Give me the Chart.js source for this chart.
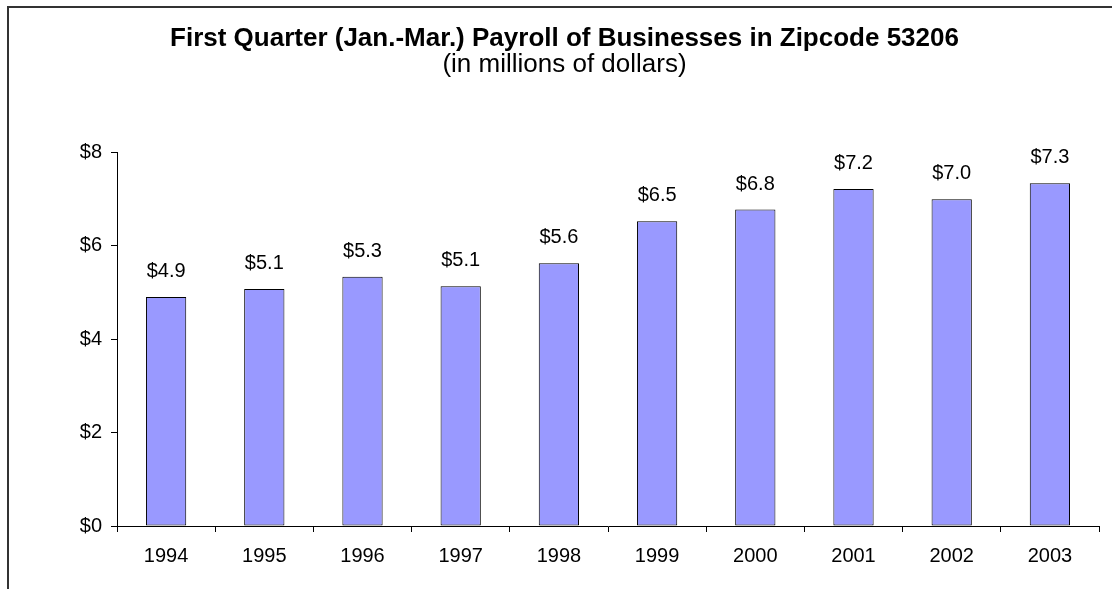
<!DOCTYPE html>
<html>
<head>
<meta charset="utf-8">
<script src="https://cdn.jsdelivr.net/npm/chart.js@4/dist/chart.umd.min.js"></script>
<style>
  html, body { margin: 0; padding: 0; background: #fff; }
  #wrap { position: relative; width: 1112px; height: 589px; }
  #frame { position: absolute; left: 7px; top: 6px; right: 0; bottom: 0;
           border-left: 2px solid #333; border-top: 2px solid #333; pointer-events: none; }
</style>
</head>
<body>
<div id="wrap">
  <canvas id="myChart" width="1112" height="589"></canvas>
  <div id="frame"></div>
</div>
<script>
// payroll of businesses in zipcode 53206, first quarter, millions of dollars
var years = ["1994","1995","1996","1997","1998","1999","2000","2001","2002","2003"];
var payroll = [4.90, 5.07, 5.33, 5.13, 5.62, 6.52, 6.77, 7.21, 6.99, 7.33];
var yTicks = [0, 2, 4, 6, 8];

var fontFam = "'Liberation Sans', Arial, sans-serif";
Chart.defaults.font.family = fontFam;
Chart.defaults.color = "#000";

// writes the value above every bar
var barLabels = {
  id: "barLabels",
  afterDatasetsDraw: function(chart) {
    var ctx = chart.ctx;
    var meta = chart.getDatasetMeta(0);
    ctx.save();
    ctx.font = "20px " + fontFam;
    ctx.fillStyle = "#000";
    ctx.textAlign = "center";
    ctx.textBaseline = "alphabetic";
    meta.data.forEach(function(bar, i) {
      ctx.fillText("$" + payroll[i].toFixed(1), bar.x, bar.y - 20);
    });
    ctx.restore();
  }
};

new Chart("myChart", {
  type: "bar",
  data: {
    labels: years,
    datasets: [{
      data: payroll,
      backgroundColor: "#9999FF",
      borderColor: "#000",
      borderWidth: 1,
      borderSkipped: false,
      barPercentage: 0.41,
      categoryPercentage: 1.0
    }]
  },
  options: {
    responsive: false,
    animation: false,
    layout: { padding: { left: 30, right: 13, top: 0, bottom: 0 } },
    plugins: {
      legend: { display: false },
      tooltip: { enabled: false },
      title: {
        display: true,
        text: "First Quarter (Jan.-Mar.) Payroll of Businesses in Zipcode 53206",
        font: { size: 26, weight: "bold", lineHeight: 1.0 },
        color: "#000",
        padding: { top: 26, bottom: 0 }
      },
      subtitle: {
        display: true,
        text: "(in millions of dollars)",
        font: { size: 26, lineHeight: 1.0 },
        color: "#000",
        padding: { top: 0, bottom: 74 }
      }
    },
    scales: {
      x: {
        grid: { display: true, drawOnChartArea: false, drawTicks: true, tickLength: 6, color: "#000", offset: true },
        border: { color: "#000", width: 1 },
        ticks: { font: { size: 20 }, color: "#000", padding: 12, maxRotation: 0 },
        afterFit: function(scale) { scale.height = 63; }
      },
      y: {
        min: 0,
        max: 8,
        afterBuildTicks: function(scale) {
          scale.ticks = yTicks.map(function(v) { return { value: v }; });
        },
        grid: { display: true, drawOnChartArea: false, drawTicks: true, tickLength: 6, color: "#000" },
        border: { color: "#000", width: 1 },
        ticks: {
          font: { size: 20 },
          color: "#000",
          padding: 9,
          callback: function(v) { return "$" + v; }
        },
        afterFit: function(scale) { scale.width = 87; }
      }
    }
  },
  plugins: [barLabels]
});
</script>
</body>
</html>
